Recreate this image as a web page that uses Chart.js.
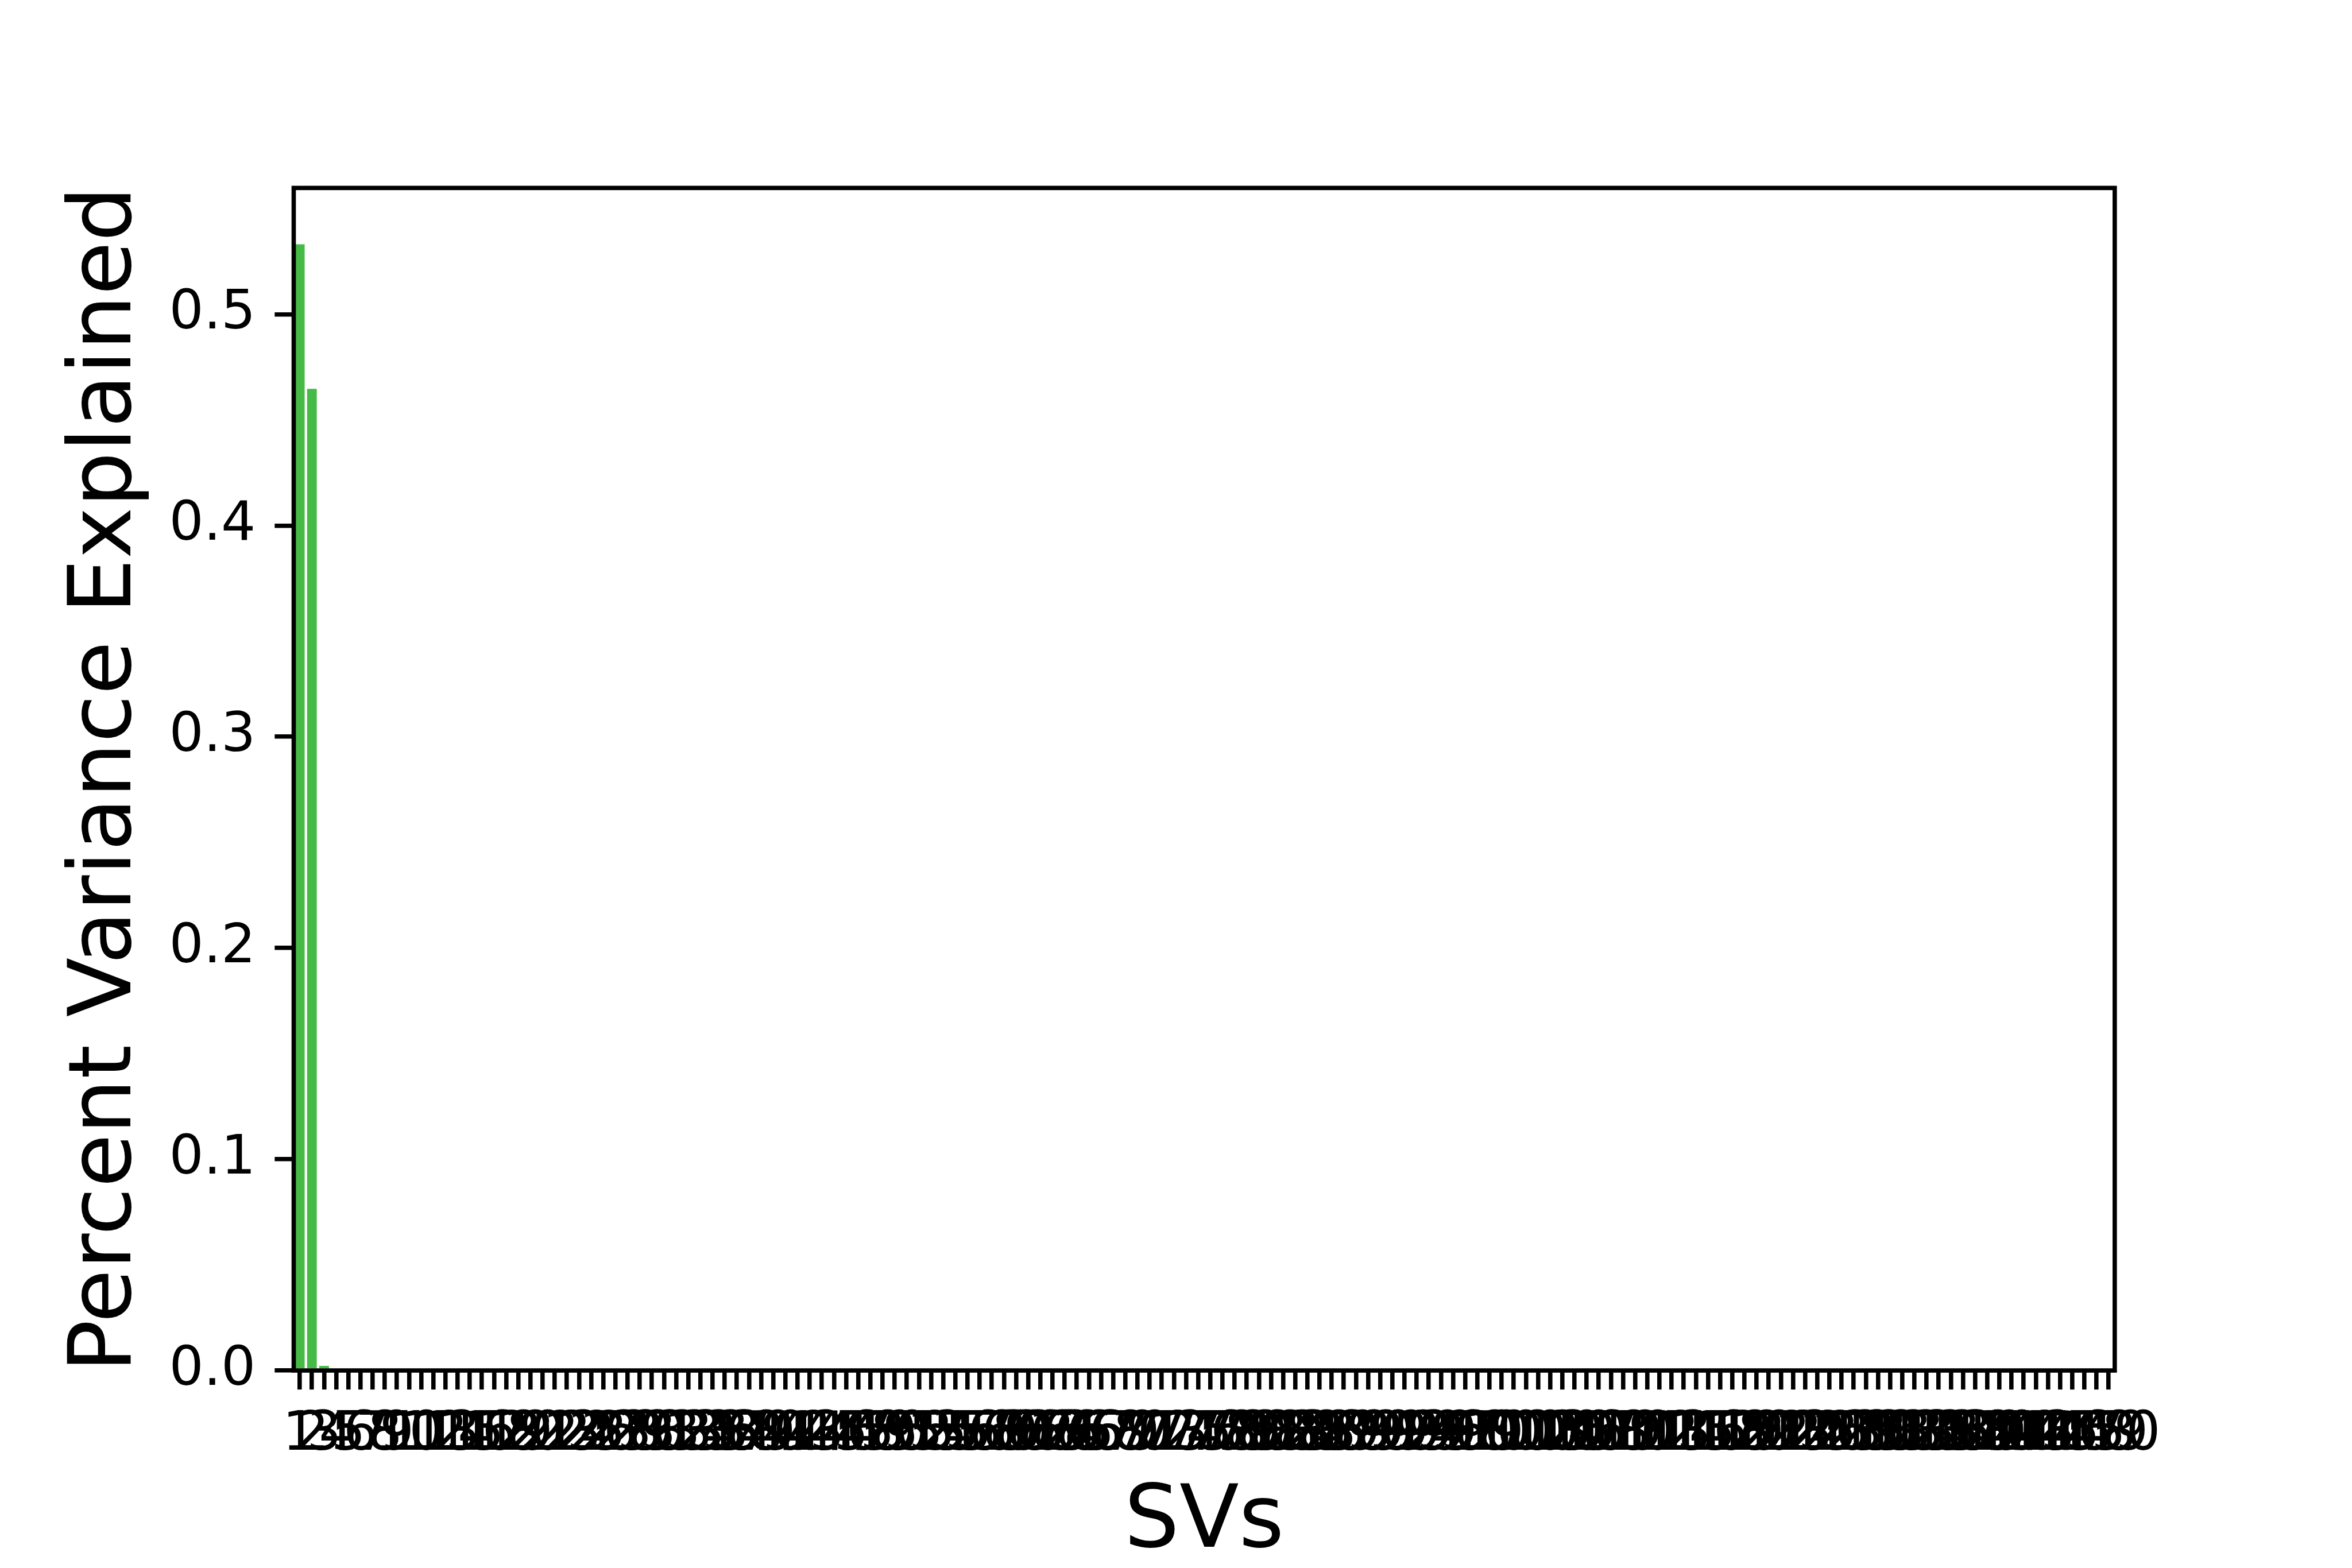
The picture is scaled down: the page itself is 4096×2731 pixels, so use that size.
<!DOCTYPE html>
<html>
<head>
<meta charset="utf-8">
<script src="https://cdn.jsdelivr.net/npm/chart.js@4.4.1/dist/chart.umd.min.js"></script>
<style>
html,body{margin:0;padding:0;background:#ffffff;overflow:hidden}
canvas{display:block}
</style>
</head>
<body>
<canvas id="c" width="4096" height="2731"></canvas>
<script>
// ---- data ----
const svLabels = [
  '1','2','3','4','5','6','7','8','9','10',
  '11','12','13','14','15','16','17','18','19','20',
  '21','22','23','24','25','26','27','28','29','30',
  '31','32','33','34','35','36','37','38','39','40',
  '41','42','43','44','45','46','47','48','49','50',
  '51','52','53','54','55','56','57','58','59','60',
  '61','62','63','64','65','66','67','68','69','70',
  '71','72','73','74','75','76','77','78','79','80',
  '81','82','83','84','85','86','87','88','89','90',
  '91','92','93','94','95','96','97','98','99','100',
  '101','102','103','104','105','106','107','108','109','110',
  '111','112','113','114','115','116','117','118','119','120',
  '121','122','123','124','125','126','127','128','129','130',
  '131','132','133','134','135','136','137','138','139','140',
  '141','142','143','144','145','146','147','148','149','150'
];
const varianceExplained = [
  0.5331,0.4647,0.0022,0,0,0,0,0,0,0,0,0,0,0,0,0,0,0,0,0,
  0,0,0,0,0,0,0,0,0,0,0,0,0,0,0,0,0,0,0,0,
  0,0,0,0,0,0,0,0,0,0,0,0,0,0,0,0,0,0,0,0,
  0,0,0,0,0,0,0,0,0,0,0,0,0,0,0,0,0,0,0,0,
  0,0,0,0,0,0,0,0,0,0,0,0,0,0,0,0,0,0,0,0,
  0,0,0,0,0,0,0,0,0,0,0,0,0,0,0,0,0,0,0,0,
  0,0,0,0,0,0,0,0,0,0,0,0,0,0,0,0,0,0,0,0,
  0,0,0,0,0,0,0,0,0,0
];
const yAxisMin = 0;
const yAxisMax = 0.5598;
const yTickStep = 0.1;
const xTitle = 'SVs';
const yTitle = 'Percent Variance Explained';

// ---- styling (reference scaled by 0.682) ----
const S = 0.682;
const PT = 1000 / 72 * S;          // one point in target pixels
const FONT = "'DejaVu Sans', 'Liberation Sans', sans-serif";
const barColor = '#46ba46';
const spineW = 0.8 * PT;
const tickLen = 3.5 * PT;
const tickPad = 3.5 * PT;
const W = 4096, H = 2731;
const areaLeft = 750 * S, areaRight = 5400 * S, areaTop = 480 * S, areaBottom = 3500 * S;

const framePlugin = {
  id: 'frame',
  afterDatasetsDraw(chart) {
    const {ctx, chartArea: a} = chart;
    ctx.save();
    ctx.strokeStyle = '#000000';
    ctx.lineWidth = spineW;
    ctx.lineJoin = 'miter';
    ctx.strokeRect(a.left, a.top, a.right - a.left, a.bottom - a.top);
    ctx.restore();
  }
};

Chart.defaults.font.family = FONT;
Chart.defaults.color = '#000000';

new Chart(document.getElementById('c'), {
  type: 'bar',
  data: {
    labels: svLabels,
    datasets: [{
      data: varianceExplained,
      backgroundColor: barColor,
      borderWidth: 0,
      barPercentage: 0.8,
      categoryPercentage: 1.0
    }]
  },
  options: {
    responsive: false,
    maintainAspectRatio: false,
    devicePixelRatio: 1,
    animation: false,
    events: [],
    layout: { padding: { left: 0, right: W - areaRight, top: areaTop, bottom: 0 } },
    plugins: { legend: { display: false }, tooltip: { enabled: false }, title: { display: false } },
    scales: {
      x: {
        type: 'category',
        offset: true,
        grid: {
          display: true, drawOnChartArea: false, drawTicks: true, offset: false,
          tickLength: tickLen, tickWidth: spineW, tickColor: '#000000', lineWidth: spineW, color: '#000000'
        },
        border: { display: false },
        ticks: {
          autoSkip: false, maxRotation: 0, minRotation: 0, padding: tickPad, color: '#000000',
          font: { family: FONT, size: 10 * PT, lineHeight: 1 }
        },
        title: {
          display: true, text: xTitle, color: '#000000',
          font: { family: FONT, size: 16 * PT, lineHeight: 1 },
          padding: { top: 0, bottom: 1 }
        },
        afterFit(scale) { scale.height = H - areaBottom; }
      },
      y: {
        type: 'linear',
        min: yAxisMin,
        max: yAxisMax,
        grid: {
          display: true, drawOnChartArea: false, drawTicks: true,
          tickLength: tickLen, tickWidth: spineW, tickColor: '#000000', lineWidth: spineW, color: '#000000'
        },
        border: { display: false },
        ticks: {
          stepSize: yTickStep, includeBounds: false, padding: tickPad, color: '#000000',
          font: { family: FONT, size: 10 * PT, lineHeight: 1 },
          callback: (v) => Number(v).toFixed(1)
        },
        title: {
          display: true, text: yTitle, color: '#000000',
          font: { family: FONT, size: 16 * PT, lineHeight: 1 },
          padding: { top: 112, bottom: 0 }
        },
        afterFit(scale) { scale.width = areaLeft; }
      }
    }
  },
  plugins: [framePlugin]
});
</script>
</body>
</html>
